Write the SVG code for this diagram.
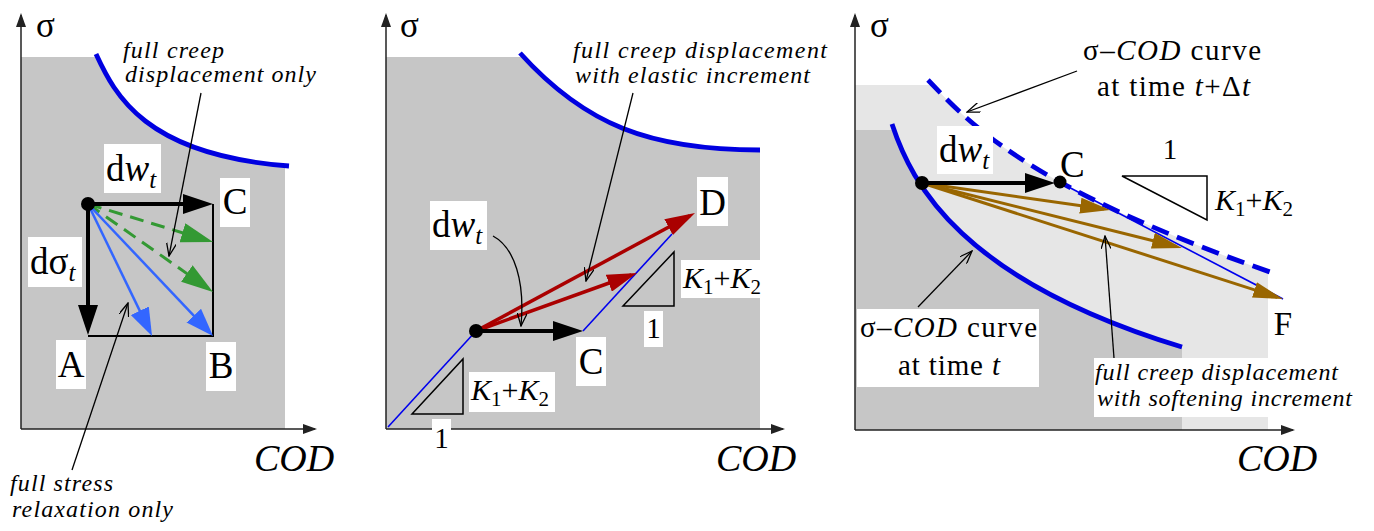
<svg xmlns="http://www.w3.org/2000/svg" width="1374" height="531" viewBox="0 0 1374 531" font-family="Liberation Serif, DejaVu Serif, serif">
<style>
.t{font-family:Liberation Serif, DejaVu Serif, serif;fill:#000}
.lab{font-size:37px}
.ann{font-size:24px;font-style:italic}
.it{font-style:italic}
.ax{stroke:#222;stroke-width:1.5;fill:none;marker-end:url(#ax)}
.g{fill:#c6c6c6}
.lg{fill:#e6e6e6}
.wb{fill:#fff}
.crv{fill:none;stroke:#0000e0;stroke-width:4.8}
.thin{fill:none;stroke:#0000ee;stroke-width:1.6}
.ldr{fill:none;stroke:#000;stroke-width:1.3;marker-end:url(#ldr)}
.blk{stroke:#000;stroke-width:4;fill:none;marker-end:url(#blk)}
.grn{stroke:#339933;stroke-width:3;fill:none;stroke-dasharray:14 8;marker-end:url(#grn)}
.blu{stroke:#3366ff;stroke-width:2.5;fill:none;marker-end:url(#blu)}
.red{stroke:#aa0000;stroke-width:3.5;fill:none;marker-end:url(#red)}
.brn{stroke:#996600;stroke-width:3;fill:none;marker-end:url(#brn)}
.tri{fill:none;stroke:#000;stroke-width:1.5}
</style>
<defs>
<marker id="ax" viewBox="0 0 14 10" refX="12" refY="5" markerWidth="14" markerHeight="10" markerUnits="userSpaceOnUse" orient="auto"><path d="M0,0 L14,5 L0,10 z" fill="#222"/></marker>
<marker id="blk" viewBox="0 0 30 20" refX="24" refY="10" markerWidth="30" markerHeight="20" markerUnits="userSpaceOnUse" orient="auto"><path d="M0,0 L30,10 L0,20 z" fill="#000"/></marker>
<marker id="grn" viewBox="0 0 32 20" refX="26" refY="10" markerWidth="32" markerHeight="20" markerUnits="userSpaceOnUse" orient="auto"><path d="M0,0 L32,10 L0,20 z" fill="#339933"/></marker>
<marker id="blu" viewBox="0 0 28 20" refX="22" refY="10" markerWidth="28" markerHeight="20" markerUnits="userSpaceOnUse" orient="auto"><path d="M0,0 L28,10 L0,20 z" fill="#3366ff"/></marker>
<marker id="red" viewBox="0 0 30 18" refX="24" refY="9" markerWidth="30" markerHeight="18" markerUnits="userSpaceOnUse" orient="auto"><path d="M0,0 L30,9 L0,18 z" fill="#aa0000"/></marker>
<marker id="brn" viewBox="0 0 30 16" refX="24" refY="8" markerWidth="30" markerHeight="16" markerUnits="userSpaceOnUse" orient="auto"><path d="M0,0 L30,8 L0,16 z" fill="#996600"/></marker>
<marker id="ldr" viewBox="0 0 14 10" refX="13" refY="5" markerWidth="14" markerHeight="10" markerUnits="userSpaceOnUse" orient="auto"><path d="M0,0 L13,5 L0,10" fill="none" stroke="#000" stroke-width="1.3"/></marker>
</defs>

<!-- Panel 1 -->
<g id="panel1">
<path class="g" d="M21,57 H97 C115,95 145,155 289,166 L285,166 V429 H21 Z"/>
<path class="crv" d="M96,54 C115,95 145,155 289,166"/>
<path d="M21,429 V15" class="ax"/>
<path d="M21,429 H315" class="ax"/>
<text class="t" x="36" y="37" font-size="35">σ</text>
<text class="t it" x="254" y="471" font-size="38">COD</text>
</g>
<g id="p1-box">
<path d="M213,204 V336 H88" fill="none" stroke="#000" stroke-width="2"/>
</g>
<g id="p1-connectors">
<path class="grn" d="M88,204 L207.3,240.3"/>
<path class="grn" d="M88,204 L208.1,288.5"/>
<path class="blu" d="M88,204 L149.4,330.6"/>
<path class="blu" d="M88,204 L208.9,331.6"/>
<path class="blk" d="M88,204 L207,204"/>
<path class="blk" d="M88,204 L88,329"/>
<circle cx="88" cy="204" r="7" fill="#000"/>
<path class="ldr" d="M201,93 L169,256"/>
<path class="ldr" d="M72,470 L128,303"/>
</g>
<g id="p1-labels">
<rect class="wb" x="220" y="178" width="30" height="49"/>
<text class="t lab" x="235" y="214" text-anchor="middle">C</text>
<rect class="wb" x="104" y="144" width="57" height="49"/>
<text class="t lab" x="106" y="181">d<tspan class="it">w</tspan><tspan class="it" font-size="25" dy="7">t</tspan></text>
<rect class="wb" x="28" y="237" width="54" height="50"/>
<text class="t lab" x="30" y="274">dσ<tspan class="it" font-size="25" dy="7">t</tspan></text>
<rect class="wb" x="56" y="340" width="30" height="49"/>
<text class="t lab" x="71" y="377" text-anchor="middle">A</text>
<rect class="wb" x="206" y="342" width="30" height="49"/>
<text class="t lab" x="221" y="378" text-anchor="middle">B</text>
<text class="t ann" x="123" y="58" textLength="101" lengthAdjust="spacing">full creep</text>
<text class="t ann" x="125" y="82" textLength="191" lengthAdjust="spacing">displacement only</text>
<text class="t ann" x="10" y="491" textLength="103" lengthAdjust="spacing">full stress</text>
<text class="t ann" x="12" y="517" textLength="161" lengthAdjust="spacing">relaxation only</text>
</g>

<!-- Panel 2 -->
<g id="panel2">
<path class="g" d="M386,57 H522 C585,125 650,150 760,150 V429 H386 Z"/>
<path class="crv" d="M520,53 C585,125 650,150 760,150"/>
<path d="M386,429 V15" class="ax"/>
<path d="M386,429 H783" class="ax"/>
<text class="t" x="400" y="37" font-size="35">σ</text>
<text class="t it" x="716" y="471" font-size="38">COD</text>
<path class="thin" d="M388,427 L476,331"/>
<path class="thin" d="M583,331 L672,234"/>
<path class="tri" d="M623,306 H674 V252 Z"/>
<path class="tri" d="M412,414 H463 V359 Z"/>
</g>
<g id="p2-connectors">
<path class="red" d="M476,331 L689.7,215.8"/>
<path class="red" d="M476,331 L631.4,275"/>
<path class="blk" d="M476,331 L577,331"/>
<circle cx="476" cy="331" r="7" fill="#000"/>
<path class="ldr" d="M633,93 L586,281"/>
<path class="ldr" d="M493,236 C515,248 525,282 521,326"/>
</g>
<g id="p2-labels">
<rect class="wb" x="697" y="177" width="31" height="49"/>
<text class="t lab" x="712.5" y="215" text-anchor="middle">D</text>
<rect class="wb" x="576" y="337" width="30" height="49"/>
<text class="t lab" x="591" y="374" text-anchor="middle">C</text>
<rect class="wb" x="430" y="201" width="57" height="49"/>
<text class="t lab" x="432" y="237">d<tspan class="it">w</tspan><tspan class="it" font-size="25" dy="7">t</tspan></text>
<rect class="wb" x="681" y="260" width="84" height="38"/>
<text class="t" x="683" y="288" font-size="30"><tspan class="it">K</tspan><tspan font-size="21" dy="6">1</tspan><tspan dy="-6">+</tspan><tspan class="it">K</tspan><tspan font-size="21" dy="6">2</tspan></text>
<rect class="wb" x="644" y="311" width="19" height="36"/>
<text class="t" x="653.5" y="338" font-size="29" text-anchor="middle">1</text>
<rect class="wb" x="469" y="372" width="86" height="40"/>
<text class="t" x="471" y="400" font-size="30"><tspan class="it">K</tspan><tspan font-size="21" dy="6">1</tspan><tspan dy="-6">+</tspan><tspan class="it">K</tspan><tspan font-size="21" dy="6">2</tspan></text>
<rect class="wb" x="432" y="419" width="19" height="31"/>
<text class="t" x="441.5" y="448" font-size="29" text-anchor="middle">1</text>
<text class="t ann" x="573" y="58" textLength="254" lengthAdjust="spacing">full creep displacement</text>
<text class="t ann" x="575" y="83" textLength="235" lengthAdjust="spacing">with elastic increment</text>
</g>

<!-- Panel 3 -->
<g id="panel3">
<path class="lg" d="M855,85 H933 L928,80 C965,118 1020,185 1270,272 L1268,272 V430 H855 Z"/>
<path class="g" d="M855,130 H895 L892,124 C912,185 962,280 1182,347 V430 H855 Z"/>
<path d="M855,430 V15" class="ax"/>
<path d="M855,430 H1293" class="ax"/>
<text class="t" x="870" y="37" font-size="35">σ</text>
<text class="t it" x="1237" y="471" font-size="38">COD</text>
<path class="thin" d="M1059,182 L1283,299"/>
<path class="crv" d="M928,80 C965,118 1020,185 1270,272" stroke-width="5" stroke-dasharray="18 9"/>
<path class="crv" d="M892,124 C912,185 962,280 1182,347"/>
<path class="tri" d="M1122,176 H1207 V220 Z"/>
</g>
<g id="p3-connectors">
<path class="brn" d="M922,183 L1104.1,209.1"/>
<path class="brn" d="M922,183 L1176.2,246.5"/>
<path class="brn" d="M922,183 L1277.3,297.2"/>
<path class="blk" d="M922,183 L1049,183"/>
<circle cx="922" cy="183" r="7" fill="#000"/>
<circle cx="1060" cy="182" r="6.5" fill="#000"/>
<path class="ldr" d="M1077,71 L967,112"/>
<path class="ldr" d="M918,307 L972,251"/>
<path class="ldr" d="M1114,358 L1105,236"/>
</g>
<g id="p3-labels">
<rect class="wb" x="937" y="126" width="56" height="48"/>
<text class="t lab" x="939" y="162">d<tspan class="it">w</tspan><tspan class="it" font-size="25" dy="7">t</tspan></text>
<text class="t lab" x="1060" y="177">C</text>
<text class="t" x="1283" y="335" font-size="33" text-anchor="middle">F</text>
<text class="t" x="1170" y="159" font-size="29" text-anchor="middle">1</text>
<text class="t" x="1215" y="210" font-size="30"><tspan class="it">K</tspan><tspan font-size="21" dy="6">1</tspan><tspan dy="-6">+</tspan><tspan class="it">K</tspan><tspan font-size="21" dy="6">2</tspan></text>
<text class="t" x="1083" y="60" font-size="29" textLength="178" lengthAdjust="spacing">σ–<tspan class="it">COD</tspan> curve</text>
<text class="t" x="1097" y="96" font-size="29" textLength="153" lengthAdjust="spacing">at time <tspan class="it">t</tspan>+Δ<tspan class="it">t</tspan></text>
<rect class="wb" x="857" y="309" width="182" height="78"/>
<text class="t" x="860" y="337" font-size="29" textLength="177" lengthAdjust="spacing">σ–<tspan class="it">COD</tspan> curve</text>
<text class="t" x="898" y="375" font-size="29" textLength="102" lengthAdjust="spacing">at time <tspan class="it">t</tspan></text>
<rect class="wb" x="1094" y="358" width="259" height="59"/>
<text class="t ann" x="1095" y="380" textLength="243" lengthAdjust="spacing">full creep displacement</text>
<text class="t ann" x="1097" y="406" textLength="255" lengthAdjust="spacing">with softening increment</text>
</g>
</svg>
